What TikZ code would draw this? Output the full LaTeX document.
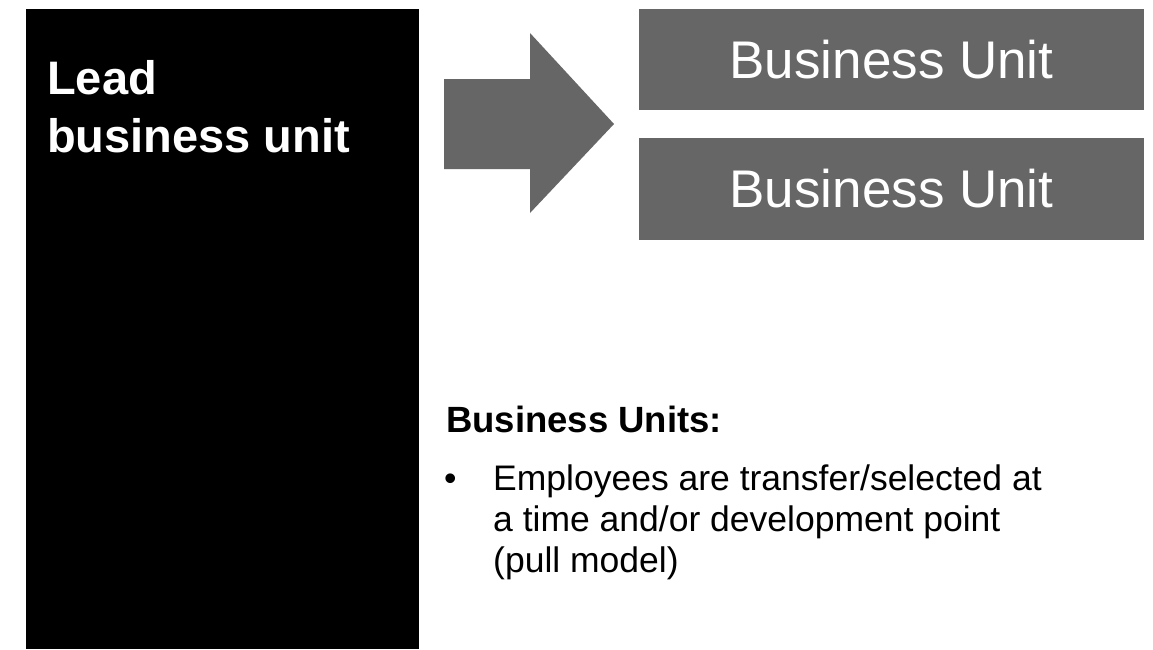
\documentclass[tikz,border=0pt]{standalone}
\usepackage{fontspec}
\setmainfont{Liberation Sans}
\begin{document}
\begin{tikzpicture}[x=1pt,y=-1pt,
  unitbox/.style={fill=bugray, draw=none, minimum width=505pt, minimum height=101.5pt, inner sep=0pt, text=white, font=\fontsize{53}{60}\selectfont},
  bodytext/.style={anchor=base west, inner sep=0pt, font=\fontsize{35.5}{41}\selectfont},
  leadtext/.style={anchor=base west, inner sep=0pt, text=white, font=\fontsize{47}{58}\selectfont\bfseries}]
\definecolor{bugray}{HTML}{666666}
\fill[white] (0,0) rectangle (1153,649);
\useasboundingbox (0,0) rectangle (1153,649);
% lead business unit block
\fill[black] (26,9) rectangle (419,649);
\node[leadtext] (lead1) at (47,94) {Lead};
\node[leadtext] (lead2) at (47,152) {business unit};
% block arrow
\fill[bugray] (444,79) -- (530,79) -- (530,33) -- (614,124) -- (530,213) -- (530,169) -- (444,169) -- cycle;
% business unit boxes
\node[unitbox] (bu1) at (891.5,59.5) {Business Unit};
\node[unitbox] (bu2) at (891.5,189) {Business Unit};
% description
\node[bodytext, font=\fontsize{36.5}{41}\selectfont\bfseries] (head) at (446,432) {Business Units:};
\node[bodytext] (bullet) at (444,490) {•};
\node[bodytext] (l1) at (493,490) {Employees are transfer/selected at};
\node[bodytext] (l2) at (493,531) {a time and/or development point};
\node[bodytext] (l3) at (493,572) {(pull model)};
\end{tikzpicture}
\end{document}
